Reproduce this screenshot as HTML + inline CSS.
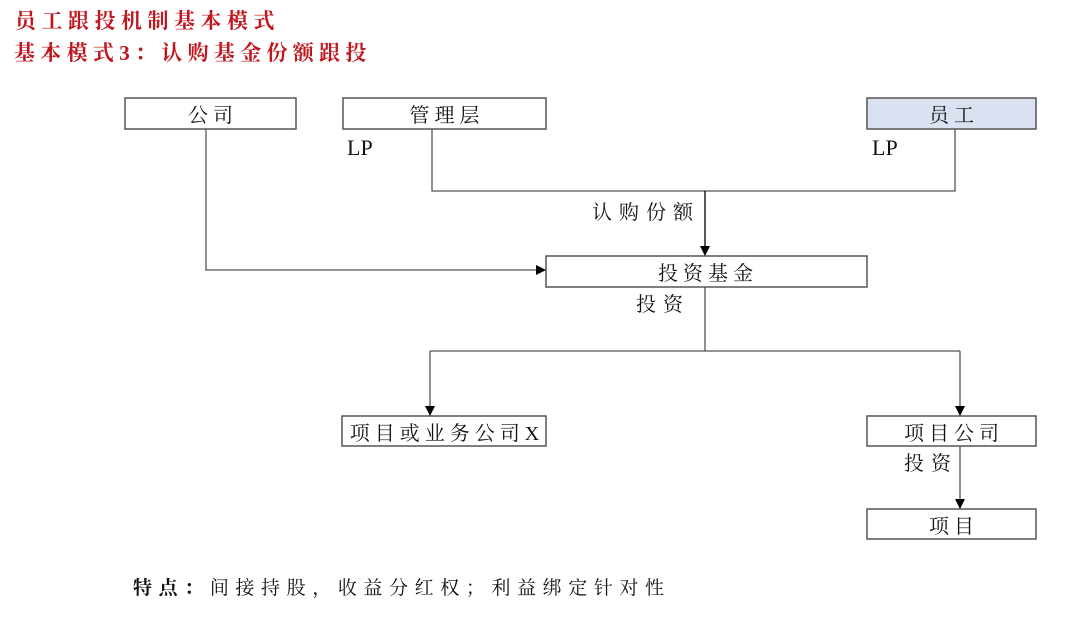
<!DOCTYPE html>
<html><head><meta charset="utf-8"><style>
body{margin:0;width:1080px;height:621px;background:#fff;overflow:hidden;font-family:"Liberation Serif","Noto Serif CJK SC",serif;}
</style></head><body>
<svg width="1080" height="621" xmlns="http://www.w3.org/2000/svg" style="position:absolute;left:0;top:0">
<defs><marker id="a" markerWidth="10" markerHeight="10" refX="9" refY="5" orient="auto" markerUnits="userSpaceOnUse"><path d="M0,0 L10,5 L0,10z" fill="#000"/></marker></defs>
<g font-family="Liberation Serif, Noto Serif CJK SC, serif" fill="#c01820" font-weight="bold" font-size="21">
<text x="15" y="28" letter-spacing="5.5">员工跟投机制基本模式</text>
<text x="14" y="60" letter-spacing="5.3">基本模式3：认购基金份额跟投</text>
</g>
<g stroke="#555" stroke-width="1.5" fill="#fff">
<rect x="125" y="98" width="171" height="31"/>
<rect x="343" y="98" width="203" height="31"/>
<rect x="867" y="98" width="169" height="31" fill="#dae1f0"/>
<rect x="546" y="256" width="321" height="31"/>
<rect x="342" y="416" width="204" height="30"/>
<rect x="867" y="416" width="169" height="30"/>
<rect x="867" y="509" width="169" height="30"/>
</g>
<g stroke="#555" stroke-width="1.3" fill="none">
<polyline points="432,129 432,191 955,191 955,129"/>
<line x1="705" y1="191" x2="705" y2="255" stroke="#000" marker-end="url(#a)"/>
<polyline points="206,129 206,270 545,270" marker-end="url(#a)"/>
<line x1="705" y1="287" x2="705" y2="351"/>
<line x1="430" y1="351" x2="960" y2="351"/>
<line x1="430" y1="351" x2="430" y2="415" marker-end="url(#a)"/>
<line x1="960" y1="351" x2="960" y2="415" marker-end="url(#a)"/>
<line x1="960" y1="446" x2="960" y2="508" marker-end="url(#a)"/>
</g>
<g font-size="20" fill="#111" text-anchor="middle" letter-spacing="5">
<text x="213" y="122">公司</text>
<text x="447" y="122">管理层</text>
<text x="954" y="122">员工</text>
<text x="708" y="280">投资基金</text>
<text x="447" y="440">项目或业务公司X</text>
<text x="954" y="440">项目公司</text>
<text x="954" y="533">项目</text>
</g>
<g font-size="20" fill="#111" letter-spacing="7">
<text x="347" y="155" font-size="22" letter-spacing="0">LP</text>
<text x="872" y="155" font-size="22" letter-spacing="0">LP</text>
<text x="592" y="219">认购份额</text>
<text x="636" y="311">投资</text>
<text x="904" y="470">投资</text>
<text x="133" y="594" font-size="19" letter-spacing="6.6"><tspan font-weight="bold">特点：</tspan>间接持股，收益分红权；利益绑定针对性</text>
</g>
</svg>
</body></html>
